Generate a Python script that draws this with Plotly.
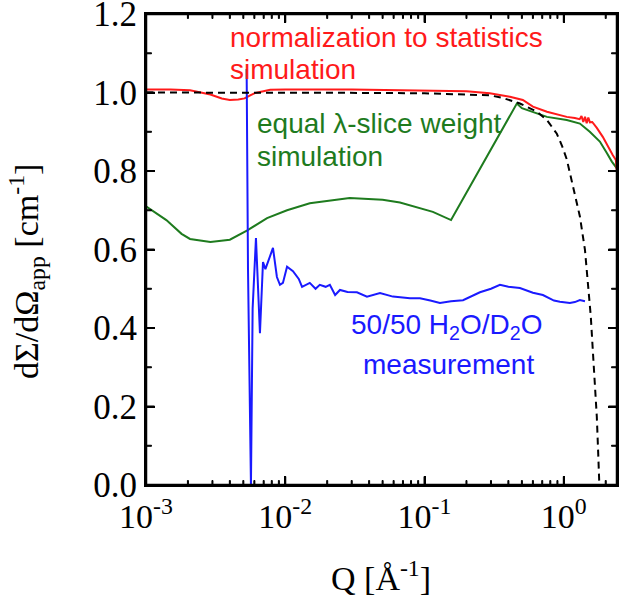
import math
import plotly.graph_objects as go

# ---------------- data ----------------
dash_q = [0.001, 0.01, 0.05, 0.1, 0.2, 0.294, 0.366, 0.484, 0.641, 0.757, 0.891, 0.969,
          1.05, 1.15, 1.305, 1.419, 1.49, 1.563, 1.615, 1.67, 1.726, 1.77, 1.79, 1.80]
dash_y = [1.0, 1.0, 0.999, 0.998, 0.996, 0.993, 0.986, 0.972, 0.951, 0.93, 0.895, 0.865,
          0.83, 0.772, 0.684, 0.599, 0.515, 0.429, 0.344, 0.26, 0.174, 0.072, 0.018, 0.0]

red_q = [0.001, 0.0015, 0.00207, 0.0029, 0.0035, 0.004, 0.0046, 0.0051, 0.0056, 0.0061,
         0.0078, 0.01, 0.03, 0.1, 0.2, 0.294, 0.41, 0.508, 0.6, 0.757, 0.891, 1.05, 1.2,
         1.3, 1.34, 1.38, 1.42, 1.46, 1.5, 1.54, 1.6, 1.726, 1.905, 2.07, 2.25, 2.366, 2.404]
red_y = [1.008, 1.008, 1.006, 0.995, 0.985, 0.981, 0.982, 0.985, 0.993, 0.999,
         1.007, 1.008, 1.008, 1.006, 1.003, 0.998, 0.989, 0.981, 0.964, 0.951, 0.944, 0.938, 0.935,
         0.932, 0.940, 0.925, 0.938, 0.922, 0.936, 0.924, 0.925, 0.91, 0.887, 0.862, 0.84, 0.828, 0.80]

green_q = [0.001, 0.0014, 0.0018, 0.00207, 0.0029, 0.004, 0.0053, 0.0074, 0.0103, 0.015,
           0.029, 0.05, 0.0666, 0.1148, 0.155, 0.46, 0.5, 0.6, 0.757, 1.05, 1.305, 1.537,
           1.815, 2.037, 2.213, 2.404]
green_y = [0.71, 0.675, 0.64, 0.627, 0.619, 0.625, 0.648, 0.68, 0.70, 0.718,
           0.731, 0.727, 0.72, 0.696, 0.675, 0.972, 0.96, 0.951, 0.938, 0.93, 0.921, 0.90,
           0.875, 0.846, 0.824, 0.807]

blue_q = [0.00528, 0.0054, 0.00567, 0.00583, 0.00616, 0.00637, 0.00658, 0.00692, 0.0072,
          0.00816, 0.00871, 0.00916, 0.00962, 0.0103, 0.01136, 0.0125, 0.0132, 0.0150, 0.0165,
          0.0177, 0.0195, 0.0209, 0.0228, 0.0247, 0.028, 0.0327, 0.0386, 0.0479, 0.0593,
          0.0786, 0.0927, 0.11, 0.129, 0.155, 0.189, 0.25, 0.3, 0.348, 0.4, 0.484, 0.6,
          0.708, 0.85, 0.938, 1.106, 1.2, 1.305, 1.419]
blue_y = [1.06, 0.55, 0.0, 0.45, 0.629, 0.50, 0.387, 0.568, 0.55,
          0.604, 0.53, 0.51, 0.515, 0.556, 0.545, 0.525, 0.505, 0.515, 0.50,
          0.51, 0.505, 0.51, 0.484, 0.497, 0.492, 0.491, 0.48, 0.489, 0.48,
          0.476, 0.476, 0.47, 0.464, 0.468, 0.471, 0.491, 0.50, 0.51, 0.505, 0.502, 0.49,
          0.484, 0.47, 0.467, 0.464, 0.466, 0.471, 0.468]

x_major = [0.001, 0.01, 0.1, 1]
x_major_text = ["10<sup>-3</sup>", "10<sup>-2</sup>", "10<sup>-1</sup>", "10<sup>0</sup>"]
x_minor = [m * d for d in [0.001, 0.01, 0.1, 1] for m in range(2, 10)]
y_major = [0.0, 0.2, 0.4, 0.6, 0.8, 1.0, 1.2]
y_major_text = ["0.0", "0.2", "0.4", "0.6", "0.8", "1.0", "1.2"]
y_minor = [0.1, 0.3, 0.5, 0.7, 0.9, 1.1]

X_RANGE = [-3, 0.382]
Y_RANGE = [0, 1.2]

RED = "#ff1a1a"
GREEN = "#1e7b1e"
BLUE = "#1a1aff"

W, H = 619, 597
ML, MR, MT, MB = 146, 2, 14, 112
PW, PH = W - ML - MR, H - MT - MB          # plot area size in px
XPX = PW / (X_RANGE[1] - X_RANGE[0])        # px per decade
YPX = PH / (Y_RANGE[1] - Y_RANGE[0])        # px per unit

fig = go.Figure()
fig.add_trace(go.Scatter(x=green_q, y=green_y, mode="lines", line=dict(color=GREEN, width=2)))
fig.add_trace(go.Scatter(x=red_q, y=red_y, mode="lines", line=dict(color=RED, width=2)))
fig.add_trace(go.Scatter(x=blue_q, y=blue_y, mode="lines", line=dict(color=BLUE, width=2)))
fig.add_trace(go.Scatter(x=dash_q, y=dash_y, mode="lines",
                         line=dict(color="black", width=2, dash="7px,5px")))

serif = "Liberation Serif, Times New Roman, serif"
sans = "Liberation Sans, Arial, sans-serif"

# frame + tick marks as small rectangles placed through the axes
# (shape positions on a log axis are given in data units)
shapes = [dict(type="rect", xref="paper", yref="paper", x0=0, x1=1, y0=0, y1=1,
               line=dict(color="#000000", width=2.5), layer="above")]
tick_style = dict(fillcolor="#000000", line=dict(color="#000000", width=1), layer="above")
for vals, ln in ((y_major, 9), (y_minor, 6)):
    for v in vals:
        if not (Y_RANGE[0] < v < Y_RANGE[1]):
            continue
        hh = 0.5 / YPX
        shapes.append(dict(type="rect", xref="paper", yref="y", x0=0, x1=(ln - 0.5) / PW,
                           y0=v - hh, y1=v + hh, **tick_style))
        shapes.append(dict(type="rect", xref="paper", yref="y", x0=1 - (ln - 0.5) / PW, x1=1,
                           y0=v - hh, y1=v + hh, **tick_style))
for vals, ln in ((x_major, 9), (x_minor, 5)):
    for v in vals:
        lv = math.log10(v)
        if not (X_RANGE[0] < lv < X_RANGE[1]):
            continue
        f = 10 ** (0.5 / XPX)
        shapes.append(dict(type="rect", xref="x", yref="paper", x0=v / f, x1=v * f,
                           y0=0, y1=(ln - 0.5) / PH, **tick_style))
        shapes.append(dict(type="rect", xref="x", yref="paper", x0=v / f, x1=v * f,
                           y0=1 - (ln - 0.5) / PH, y1=1, **tick_style))

fig.update_layout(
    width=W, height=H,
    margin=dict(l=ML, r=MR, t=MT, b=MB, autoexpand=False),
    paper_bgcolor="white", plot_bgcolor="white",
    showlegend=False,
    font=dict(family=serif, color="black", size=34),
    xaxis=dict(type="log", range=X_RANGE, showgrid=False, zeroline=False,
               showline=True, linecolor="#000000", linewidth=2, mirror="ticks",
               ticks="inside", ticklen=9, tickwidth=2, tickcolor="#000000",
               tickmode="array", tickvals=x_major, ticktext=x_major_text,
               ticklabeloverflow="allow",
               tickfont=dict(family=serif, size=34)),
    yaxis=dict(range=[Y_RANGE[0], Y_RANGE[1] + 0.0001], showgrid=False, zeroline=False,
               showline=True, linecolor="#000000", linewidth=2, mirror="ticks",
               ticks="inside", ticklen=9, tickwidth=2, tickcolor="#000000",
               tickmode="array", tickvals=y_major, ticktext=y_major_text,
               ticklabeloverflow="allow",
               tickfont=dict(family=serif, size=35)),
    shapes=shapes,
)

ann = [
    dict(text="normalization to statistics", x=-2.411, y=1.14, color=RED, anchor="left"),
    dict(text="simulation", x=-2.411, y=1.058, color=RED, anchor="left"),
    dict(text="equal λ-slice weight", x=-2.22, y=0.92, color=GREEN, anchor="left"),
    dict(text="simulation", x=-2.22, y=0.838, color=GREEN, anchor="left"),
    dict(text="50/50 H<sub>2</sub>O/D<sub>2</sub>O", x=-0.84, y=0.405, color=BLUE, anchor="center"),
    dict(text="measurement", x=-0.825, y=0.306, color=BLUE, anchor="center"),
]
for a in ann:
    fig.add_annotation(x=a["x"], y=a["y"], xref="x", yref="y", text=a["text"],
                       showarrow=False, xanchor=a["anchor"], yanchor="middle",
                       font=dict(family=sans, size=28, color=a["color"]))

fig.add_annotation(x=(381 - ML) / PW, y=(485 - 576) / PH, xref="paper", yref="paper",
                   text="Q [Å<sup>-1</sup>]", showarrow=False, xanchor="center", yanchor="middle",
                   font=dict(family=serif, size=34, color="black"))
fig.add_annotation(x=(26 - ML) / PW, y=(485 - 272) / PH, xref="paper", yref="paper",
                   text="dΣ/dΩ<sub>app</sub> [cm<sup>-1</sup>]", textangle=-90, showarrow=False,
                   xanchor="center", yanchor="middle",
                   font=dict(family=serif, size=34, color="black"))

fig.write_html("out.html", config={"displayModeBar": False},
               post_script="document.body.style.margin='0';")
